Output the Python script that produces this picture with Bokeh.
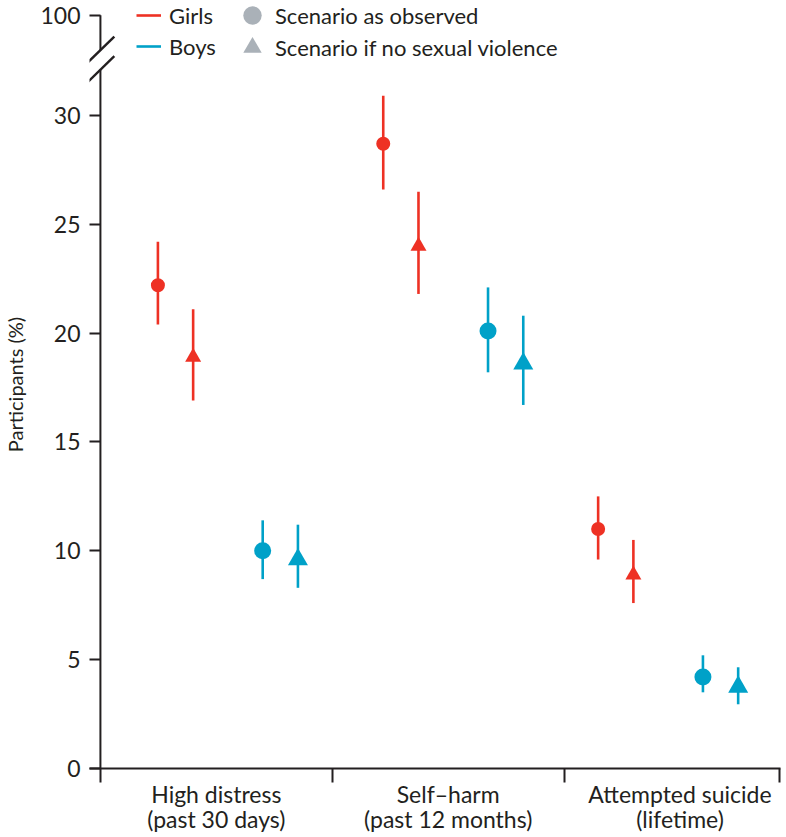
from bokeh.plotting import figure
from bokeh.models import ColumnDataSource, Range1d, FixedTicker, Legend, LegendItem
from bokeh.embed import file_html
from bokeh.resources import INLINE

# ---------------- data ----------------
categories = ["High distress\n(past 30 days)",
              "Self\u2013harm\n(past 12 months)",
              "Attempted suicide\n(lifetime)"]

girls_obs = [22.2, 28.7, 11.0]
girls_obs_lo = [20.4, 26.6, 9.6]
girls_obs_hi = [24.2, 30.9, 12.5]

girls_nsv = [18.9, 24.0, 8.9]
girls_nsv_lo = [16.9, 21.8, 7.6]
girls_nsv_hi = [21.1, 26.5, 10.5]

boys_obs = [10.0, 20.1, 4.2]
boys_obs_lo = [8.7, 18.2, 3.5]
boys_obs_hi = [11.4, 22.1, 5.2]

boys_nsv = [9.6, 18.6, 3.75]
boys_nsv_lo = [8.3, 16.7, 2.95]
boys_nsv_hi = [11.2, 20.8, 4.65]

y_ticks = [0, 5, 10, 15, 20, 25, 30]
y_top_label = "100"

sex_labels = ["Girls", "Boys"]
scenario_labels = ["Scenario as observed", "Scenario if no sexual violence"]

# ---------------- layout / style constants ----------------
RED = "#EE3124"
BLUE = "#00A1C8"
GREY = "#AAB1B8"
INK = "#231F20"
FONT = "Lato"

GROUP_CENTRES = [0.55, 1.522, 2.449]       # centre of each cluster of four estimates
DODGE = [-0.302, -0.15, 0.15, 0.302]       # girls-obs, girls-nsv, boys-obs, boys-nsv

X_START, X_END = -0.0471, 2.9336
Y_END = 35.28
TOP_TICK = 34.6            # where the broken axis shows "100"
BREAK_LO, BREAK_HI = 32.1, 33.0
SL_DX, SL_DY = 0.06, 0.62  # half extent of the break marks

p = figure(width=781, height=858,
           min_border_left=84, min_border_right=1, min_border_top=0, min_border_bottom=90,
           x_range=Range1d(X_START, X_END), y_range=Range1d(0, Y_END),
           output_backend="svg", toolbar_location=None,
           outline_line_color=None, background_fill_color="white",
           border_fill_color="white")
p.grid.visible = False

# ---------------- series ----------------
series = [
    (girls_obs, girls_obs_lo, girls_obs_hi, RED, "circle", 14, DODGE[0]),
    (girls_nsv, girls_nsv_lo, girls_nsv_hi, RED, "triangle", 16, DODGE[1]),
    (boys_obs, boys_obs_lo, boys_obs_hi, BLUE, "circle", 17, DODGE[2]),
    (boys_nsv, boys_nsv_lo, boys_nsv_hi, BLUE, "triangle", 20, DODGE[3]),
]

sources = []
whiskers = []
for vals, lo, hi, col, mk, sz, dx in series:
    src = ColumnDataSource(dict(x=[c + dx for c in GROUP_CENTRES], y=vals, lo=lo, hi=hi))
    sources.append(src)
    whiskers.append(p.segment(x0="x", y0="lo", x1="x", y1="hi", source=src,
                              line_color=col, line_width=2.6))

# grey scenario markers (legend keys), hidden underneath the coloured ones
grey_obs = p.scatter("x", "y", source=sources[0], marker="circle", size=5,
                     fill_color=GREY, line_color=None)
p.scatter("x", "y", source=sources[2], marker="circle", size=5,
          fill_color=GREY, line_color=None)
grey_nsv = p.scatter("x", "y", source=sources[1], marker="triangle", size=5,
                     fill_color=GREY, line_color=None)
p.scatter("x", "y", source=sources[3], marker="triangle", size=5,
          fill_color=GREY, line_color=None)

for (vals, lo, hi, col, mk, sz, dx), src in zip(series, sources):
    p.scatter("x", "y", source=src, marker=mk, size=sz, fill_color=col, line_color=None)

# ---------------- broken y axis line ----------------
p.segment(x0=[0, 0], y0=[0, BREAK_HI], x1=[0, 0], y1=[BREAK_LO, TOP_TICK],
          line_color=INK, line_width=2)
p.segment(x0=[-SL_DX, -SL_DX], y0=[BREAK_LO - SL_DY, BREAK_HI - SL_DY],
          x1=[SL_DX, SL_DX], y1=[BREAK_LO + SL_DY, BREAK_HI + SL_DY],
          line_color=INK, line_width=2.4)

# ---------------- axes ----------------
xa = p.xaxis[0]
xa.ticker = FixedTicker(ticks=[i + 0.5 for i in range(len(categories))],
                        minor_ticks=[0, 1, 2, 2.93])
xa.major_label_overrides = {i + 0.5: c for i, c in enumerate(categories)}
xa.major_tick_line_color = None
xa.major_tick_in = 0
xa.major_tick_out = 0
xa.minor_tick_line_color = INK
xa.minor_tick_line_width = 2
xa.minor_tick_in = 0
xa.minor_tick_out = 14
xa.axis_line_color = INK
xa.axis_line_width = 2
xa.major_label_standoff = -3
xa.major_label_text_font = FONT
xa.major_label_text_font_size = "23px"
xa.major_label_text_color = INK
xa.major_label_text_line_height = 0.9

ya = p.yaxis[0]
ya.ticker = FixedTicker(ticks=y_ticks + [TOP_TICK])
ya.major_label_overrides = {TOP_TICK: y_top_label}
ya.axis_line_color = None
ya.major_tick_in = 11
ya.major_tick_out = 0
ya.major_tick_line_color = INK
ya.major_tick_line_width = 2
ya.minor_tick_line_color = None
ya.minor_tick_in = 0
ya.minor_tick_out = 0
ya.major_label_standoff = 9
ya.major_label_text_font = FONT
ya.major_label_text_font_size = "23px"
ya.major_label_text_color = INK
ya.axis_label = "Participants (%)"
ya.axis_label_text_font = FONT
ya.axis_label_text_font_size = "20px"
ya.axis_label_text_font_style = "normal"
ya.axis_label_text_color = INK
ya.axis_label_standoff = 10

# ---------------- legends ----------------
common = dict(padding=0, margin=0, border_line_color=None, background_fill_alpha=0,
              label_text_font=FONT, label_text_font_size="22px", label_text_color=INK)

leg_sex = Legend(items=[LegendItem(label=sex_labels[0], renderers=[whiskers[0]]),
                        LegendItem(label=sex_labels[1], renderers=[whiskers[2]])],
                 location=(47, 707), glyph_width=25, glyph_height=30, label_height=30,
                 spacing=1, label_standoff=8, **common)
leg_obs = Legend(items=[LegendItem(label=scenario_labels[0], renderers=[grey_obs])],
                 location=(140, 729), glyph_width=46, glyph_height=48, label_height=48,
                 label_standoff=0, **common)
leg_nsv = Legend(items=[LegendItem(label=scenario_labels[1], renderers=[grey_nsv])],
                 location=(140, 697), glyph_width=46, glyph_height=48, label_height=48,
                 label_standoff=0, **common)
for lg in (leg_sex, leg_obs, leg_nsv):
    p.add_layout(lg)

open("out.html", "w").write(file_html(p, INLINE, title="Participants by scenario"))
